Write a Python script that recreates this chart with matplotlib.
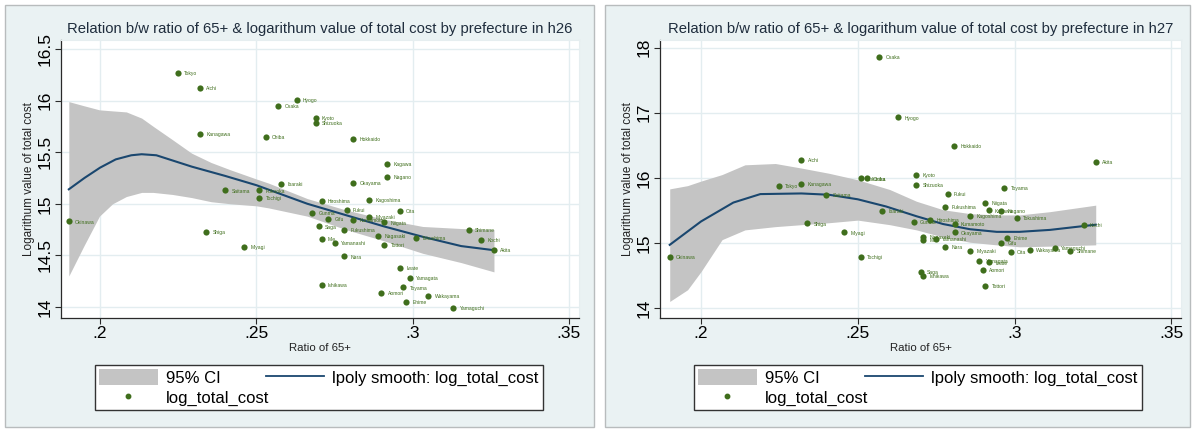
import numpy as np
import matplotlib.pyplot as plt
from matplotlib.patches import Rectangle, Patch
from matplotlib.lines import Line2D

plt.rcParams['font.family'] = ['Liberation Sans', 'DejaVu Sans']

# ---- h26 data ----
pref26 = ["Tokyo", "Aichi", "Hyogo", "Osaka", "Kyoto", "Shizuoka", "Kanagawa", "Chiba",
          "Hokkaido", "Kagawa", "Nagano", "Okayama", "Ibaraki", "Saitama", "Fukuoka", "Tochigi",
          "Hiroshima", "Kagoshima", "Oita", "Fukui", "Gunma", "Gifu", "Miyazaki", "Niigata",
          "Kumamoto", "Saga", "Fukushima", "Shimane", "Nagasaki", "Tokushima", "Kochi", "Mie",
          "Yamanashi", "Tottori", "Akita", "Shiga", "Miyagi", "Okinawa", "Nara", "Iwate",
          "Yamagata", "Ishikawa", "Toyama", "Aomori", "Wakayama", "Ehime", "Yamaguchi"]
ratio26 = [0.2249, 0.232, 0.2629, 0.257, 0.269, 0.269, 0.232, 0.253,
           0.281, 0.2919, 0.2919, 0.281, 0.258, 0.240, 0.2509, 0.2509,
           0.2709, 0.286, 0.2958, 0.2789, 0.2679, 0.273, 0.286, 0.2909,
           0.281, 0.270, 0.2781, 0.318, 0.289, 0.301, 0.322, 0.2709,
           0.275, 0.2909, 0.326, 0.234, 0.246, 0.190, 0.2781, 0.296,
           0.299, 0.2709, 0.297, 0.290, 0.305, 0.298, 0.313]
cost26 = [16.27, 16.12, 16.01, 15.95, 15.83, 15.78, 15.68, 15.65,
          15.63, 15.39, 15.26, 15.20, 15.19, 15.13, 15.13, 15.06,
          15.03, 15.04, 14.93, 14.94, 14.91, 14.85, 14.87, 14.82,
          14.84, 14.78, 14.75, 14.75, 14.69, 14.67, 14.65, 14.66,
          14.62, 14.60, 14.55, 14.73, 14.58, 14.83, 14.49, 14.38,
          14.28, 14.21, 14.19, 14.14, 14.11, 14.05, 13.99]

fit_x26 = [0.190, 0.195, 0.200, 0.205, 0.210, 0.2133, 0.218, 0.2293, 0.240, 0.250,
           0.2663, 0.2786, 0.2909, 0.3032, 0.3155, 0.326]
fit_y26 = [15.14, 15.25, 15.35, 15.43, 15.47, 15.48, 15.47, 15.36, 15.27, 15.18,
           15.00, 14.89, 14.78, 14.68, 14.59, 14.55]
ci_x26 = [0.190, 0.1948, 0.1998, 0.2040, 0.2084, 0.2133, 0.217, 0.2232, 0.2293, 0.2355,
          0.2416, 0.250, 0.2539, 0.2663, 0.2786, 0.2909, 0.3032, 0.3155, 0.326]
ci_hi26 = [15.99, 15.95, 15.91, 15.90, 15.89, 15.83, 15.75, 15.62, 15.49, 15.40,
           15.33, 15.24, 15.20, 15.05, 14.94, 14.85, 14.78, 14.76, 14.75]
ci_lo26 = [14.30, 14.59, 14.88, 15.00, 15.07, 15.11, 15.11, 15.09, 15.06, 15.02,
           15.00, 14.98, 14.96, 14.88, 14.75, 14.64, 14.52, 14.43, 14.34]

# ---- h27 data ----
pref27 = ["Hokkaido", "Aomori", "Iwate", "Miyagi", "Akita", "Yamagata", "Fukushima", "Ibaraki",
          "Tochigi", "Gunma", "Saitama", "Chiba", "Tokyo", "Kanagawa", "Niigata", "Toyama",
          "Ishikawa", "Fukui", "Yamanashi", "Nagano", "Gifu", "Shizuoka", "Aichi", "Mie",
          "Shiga", "Kyoto", "Osaka", "Hyogo", "Nara", "Wakayama", "Tottori", "Shimane",
          "Okayama", "Hiroshima", "Yamaguchi", "Tokushima", "Kagawa", "Ehime", "Kochi", "Fukuoka",
          "Saga", "Nagasaki", "Kumamoto", "Oita", "Miyazaki", "Kagoshima", "Okinawa"]
ratio27 = [0.2808, 0.290, 0.2918, 0.2457, 0.3259, 0.2888, 0.2778, 0.2578,
           0.2509, 0.2678, 0.2399, 0.2529, 0.2248, 0.232, 0.2907, 0.2967,
           0.2709, 0.2787, 0.2748, 0.2958, 0.2958, 0.2687, 0.232, 0.2709,
           0.2339, 0.2687, 0.2568, 0.2629, 0.2778, 0.305, 0.2907, 0.3178,
           0.2809, 0.2731, 0.3128, 0.3007, 0.2918, 0.2976, 0.322, 0.2509,
           0.270, 0.2709, 0.2809, 0.2988, 0.2858, 0.2858, 0.190]
cost27 = [16.49, 14.59, 14.70, 15.16, 16.24, 14.72, 15.55, 15.49,
          14.78, 15.32, 15.74, 15.99, 15.87, 15.91, 15.61, 15.85,
          14.49, 15.75, 15.06, 15.49, 15.00, 15.89, 16.27, 15.04,
          15.30, 16.04, 17.86, 16.93, 14.94, 14.89, 14.34, 14.88,
          15.16, 15.35, 14.92, 15.38, 15.50, 15.08, 15.28, 15.99,
          14.56, 15.09, 15.29, 14.86, 14.88, 15.42, 14.78]

fit_x27 = [0.190, 0.195, 0.200, 0.2103, 0.2189, 0.232, 0.2408, 0.250, 0.259, 0.2687,
           0.2772, 0.2858, 0.2943, 0.3016, 0.3113, 0.3259]
fit_y27 = [14.97, 15.15, 15.33, 15.62, 15.75, 15.76, 15.74, 15.67, 15.56, 15.41,
           15.29, 15.21, 15.17, 15.17, 15.20, 15.28]
ci_x27 = [0.190, 0.1957, 0.200, 0.2067, 0.214, 0.2237, 0.232, 0.2408, 0.250, 0.2602,
          0.2687, 0.2772, 0.2858, 0.2943, 0.3016, 0.3113, 0.3259]
ci_hi27 = [15.83, 15.88, 15.95, 16.05, 16.20, 16.22, 16.15, 16.07, 15.97, 15.82,
           15.64, 15.51, 15.45, 15.43, 15.43, 15.48, 15.58]
ci_lo27 = [14.10, 14.28, 14.56, 15.05, 15.20, 15.25, 15.28, 15.31, 15.35, 15.28,
           15.20, 15.09, 15.01, 14.97, 14.94, 14.95, 14.97]

xticks = [0.2, 0.25, 0.3, 0.35]
xticklabels = [".2", ".25", ".3", ".35"]
yticks26 = [14, 14.5, 15, 15.5, 16, 16.5]
yticks27 = [14, 15, 16, 17, 18]

NAVY = "#1a476f"
GREEN = "#3f6e1c"
BAND = "#c4c4c4"
BG = "#eaf2f3"
GRID = "#e3edf0"

W, H = 1195, 433
fig = plt.figure(figsize=(W / 100, H / 100), dpi=100)
fig.patch.set_facecolor("white")

# outer graph regions
for x0, x1 in [(5, 594), (605, 1190)]:
    fig.patches.append(Rectangle((x0 / W, 1 - 427 / H), (x1 - x0) / W, 422 / H,
                                 transform=fig.transFigure, facecolor=BG,
                                 edgecolor="#b8bcbd", lw=1.0, zorder=-10))


def panel(left, right, xlim, ylim, yticks, xs, ys, names, fx, fy, cx, chi, clo, year):
    ax = fig.add_axes([left / W, 1 - 318 / H, (right - left) / W, 278 / H])
    ax.set_zorder(2)
    ax.set_facecolor("white")
    ax.fill_between(cx, clo, chi, color=BAND, lw=0, zorder=1)
    ax.plot(fx, fy, color=NAVY, lw=1.5, zorder=3)
    ax.scatter(xs, ys, s=20, color=GREEN, zorder=4, lw=0)
    for n, x, y in zip(names, xs, ys):
        ax.annotate(n, (x, y), xytext=(4.5, -0.5), textcoords="offset points",
                    fontsize=3.6, color=GREEN, va="center", zorder=5)
    ax.set_xlim(*xlim)
    ax.set_ylim(*ylim)
    ax.set_xticks(xticks)
    ax.set_xticklabels(xticklabels, fontsize=12.5)
    ax.set_yticks(yticks)
    ax.set_yticklabels([f"{t:g}" for t in yticks], fontsize=12.5, rotation=90, va="center")
    ax.grid(True, color=GRID, lw=1.0, zorder=0)
    ax.set_axisbelow(True)
    for s in ["top", "right"]:
        ax.spines[s].set_color("#e6eef0")
    for s in ["left", "bottom"]:
        ax.spines[s].set_color("#2a2a2a")
        ax.spines[s].set_linewidth(0.9)
    ax.tick_params(length=4, width=0.8, color="#2a2a2a", pad=2)
    ax.set_xlabel("Ratio of 65+", fontsize=8.2, labelpad=1, color="#222222")
    ax.set_ylabel("Logarithum value of total cost", fontsize=8.5, labelpad=2, color="#222222")
    ax.set_title("Relation b/w ratio of 65+ & logarithum value of total cost by prefecture in " + year,
                 fontsize=10.7, color="#1f2d3d", pad=5)
    handles = [Patch(facecolor=BAND, edgecolor="none"),
               Line2D([], [], ls="none", marker="o", ms=3.2, color=GREEN),
               Line2D([], [], color=NAVY, lw=1.3)]
    labels = ["95% CI", "log_total_cost", "lpoly smooth: log_total_cost"]
    lx0 = left + 34
    fig.legend(handles, labels, ncol=2, loc="lower left", mode="expand",
               bbox_to_anchor=(lx0 / W, 1 - 410 / H, 448 / W, 47 / H),
               fontsize=12, frameon=True, fancybox=False, edgecolor="#333333",
               framealpha=1, handlelength=3.5, handleheight=1.1,
               borderpad=0.25, labelspacing=0.2, columnspacing=1.0,
               handletextpad=0.5, borderaxespad=0)
    return ax


panel(61, 579, (0.1875, 0.3532), (13.893, 16.587), yticks26,
      ratio26, cost26, pref26, fit_x26, fit_y26, ci_x26, ci_hi26, ci_lo26, "h26")
panel(660, 1181, (0.1869, 0.3531), (13.846, 18.118), yticks27,
      ratio27, cost27, pref27, fit_x27, fit_y27, ci_x27, ci_hi27, ci_lo27, "h27")

fig.savefig("out.png", dpi=100, facecolor="white")
